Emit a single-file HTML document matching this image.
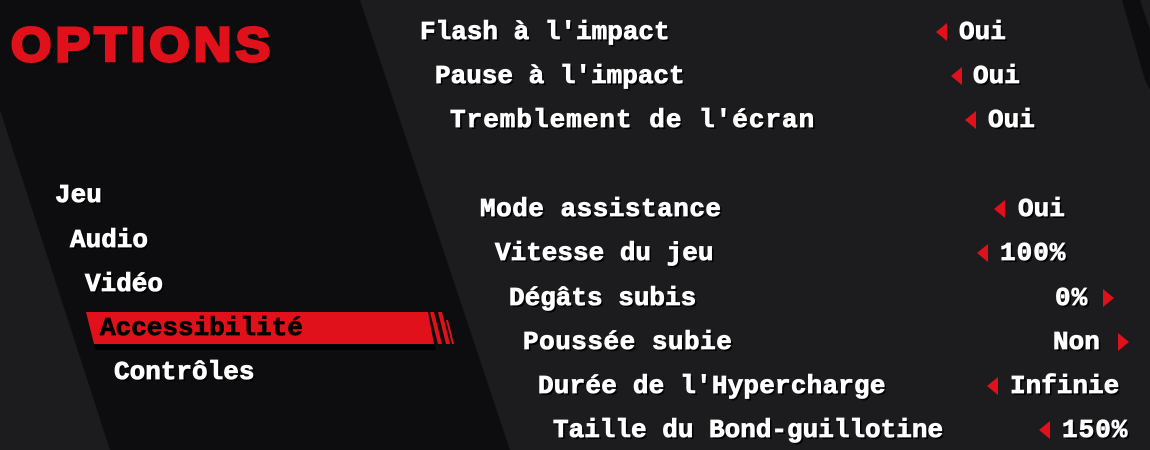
<!DOCTYPE html>
<html><head><meta charset="utf-8"><style>
html,body{margin:0;padding:0;}
body{width:1150px;height:450px;overflow:hidden;position:relative;background:#1c1c1e;font-family:"Liberation Mono",monospace;font-weight:bold;}
.t{position:absolute;height:30px;line-height:30px;font-size:26px;color:#fff;white-space:pre;text-shadow:2px 2px 0 #000;-webkit-text-stroke:0.8px #fff;}
.a{position:absolute;width:0;height:0;border-top:9px solid transparent;border-bottom:9px solid transparent;}
.l{border-right:11px solid #e0111a;}
.r{border-left:11px solid #e0111a;}
</style></head><body>
<svg width="1150" height="450" style="position:absolute;left:0;top:0">
<polygon points="0,0 360,0 510,450 110,450 0,110" fill="#0d0d0f"/>
<polygon points="1122,0 1140,0 1150,30 1150,90 1145,80" fill="#0d0d0f"/>
<polygon points="86,312 428,312 434,344 94,344" fill="#e0111a"/>
<polygon points="94,344 434,344 436,350 96,350" fill="#000"/>
<polygon points="430,312 434,312 442,344 438,344" fill="#e0111a"/>
<polygon points="438,312 442,312 450,344 446,344" fill="#e0111a"/>
<polygon points="446,320 448,320 454,344 452,344" fill="#e0111a"/>
</svg>
<div class="t" style="left:11px;top:22px;height:48px;line-height:48px;font-family:'Liberation Sans',sans-serif;font-size:48px;letter-spacing:4px;color:#e0111a;-webkit-text-stroke:3px #e0111a;text-shadow:3px 3px 0 #000;transform:scaleX(1.08);transform-origin:left;">OPTIONS</div>
<div class="t" style="left:55px;top:180px">Jeu</div>
<div class="t" style="left:70px;top:225px">Audio</div>
<div class="t" style="left:85px;top:269px">Vidéo</div>
<div class="t" style="left:100px;top:313px;color:#000;-webkit-text-stroke:0.8px #000;text-shadow:none">Accessibilité</div>
<div class="t" style="left:114px;top:357px">Contrôles</div>

<div class="t" style="left:420px;top:17px">Flash à l'impact</div>
<div class="t" style="left:435px;top:61px">Pause à l'impact</div>
<div class="t" style="left:450px;top:105px;letter-spacing:1px">Tremblement de l'écran</div>
<div class="t" style="left:480px;top:194px;letter-spacing:0.5px">Mode assistance</div>
<div class="t" style="left:495px;top:238px">Vitesse du jeu</div>
<div class="t" style="left:509px;top:283px">Dégâts subis</div>
<div class="t" style="left:523px;top:327px;letter-spacing:0.5px">Poussée subie</div>
<div class="t" style="left:538px;top:371px;letter-spacing:0.2px">Durée de l'Hypercharge</div>
<div class="t" style="left:553px;top:415px">Taille du Bond-guillotine</div>

<div class="a l" style="left:936px;top:23px"></div><div class="t" style="left:959px;top:17px">Oui</div>
<div class="a l" style="left:951px;top:67px"></div><div class="t" style="left:973px;top:61px">Oui</div>
<div class="a l" style="left:965px;top:111px"></div><div class="t" style="left:988px;top:105px">Oui</div>
<div class="a l" style="left:994px;top:200px"></div><div class="t" style="left:1018px;top:194px">Oui</div>
<div class="a l" style="left:977px;top:244px"></div><div class="t" style="left:1000px;top:238px;letter-spacing:1px">100%</div>
<div class="t" style="left:1055px;top:283px;letter-spacing:1px">0%</div><div class="a r" style="left:1103px;top:289px"></div>
<div class="t" style="left:1053px;top:327px">Non</div><div class="a r" style="left:1118px;top:333px"></div>
<div class="a l" style="left:987px;top:377px"></div><div class="t" style="left:1010px;top:371px">Infinie</div>
<div class="a l" style="left:1039px;top:421px"></div><div class="t" style="left:1062px;top:415px;letter-spacing:1px">150%</div>
</body></html>
